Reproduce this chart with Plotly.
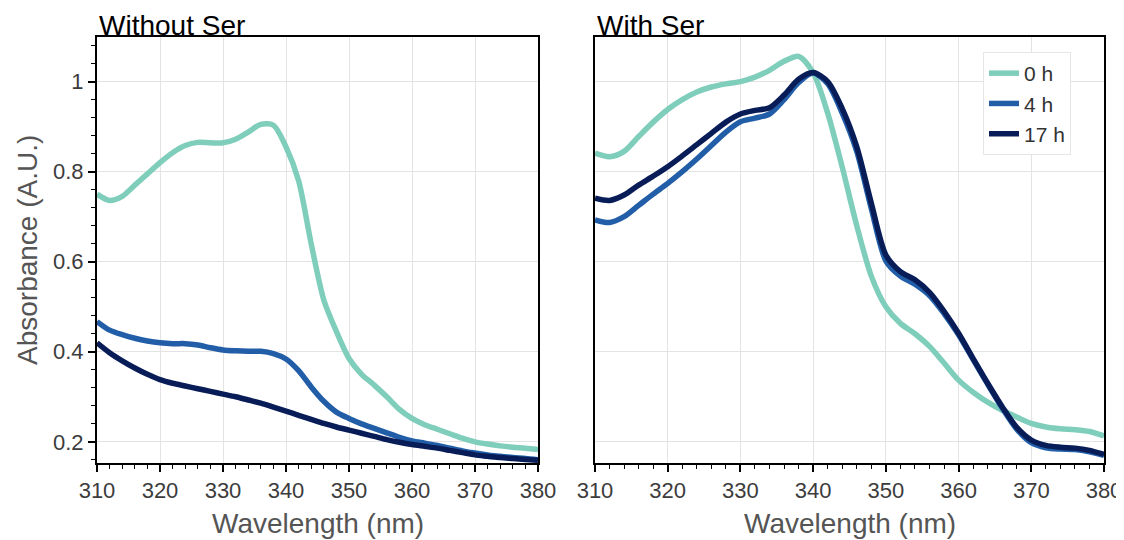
import plotly.graph_objects as go

wavelength = [310, 312, 314, 316, 318, 320, 322, 324, 326, 328, 330, 332, 334, 336, 338,
              340, 342, 344, 346, 348, 350, 352, 354, 356, 358, 360, 362, 364, 366, 368,
              370, 372, 374, 376, 378, 380]

series_names = ["0 h", "4 h", "17 h"]
series_colors = ["#7fcdbb", "#225ea8", "#081d58"]

# Without Ser
without_0h = [0.750, 0.736, 0.745, 0.770, 0.795, 0.820, 0.842, 0.858, 0.865, 0.864, 0.864, 0.872,
              0.888, 0.905, 0.903, 0.855, 0.780, 0.640, 0.515, 0.445, 0.385, 0.350, 0.326, 0.300,
              0.272, 0.252, 0.238, 0.228, 0.218, 0.208, 0.200, 0.195, 0.191, 0.188, 0.186, 0.183]
without_4h = [0.467, 0.448, 0.438, 0.430, 0.424, 0.420, 0.418, 0.418, 0.415, 0.409, 0.404, 0.402,
              0.401, 0.401, 0.396, 0.384, 0.358, 0.322, 0.290, 0.266, 0.252, 0.240, 0.230, 0.220,
              0.210, 0.202, 0.197, 0.192, 0.186, 0.180, 0.175, 0.171, 0.168, 0.165, 0.163, 0.160]
without_17h = [0.420, 0.398, 0.380, 0.364, 0.350, 0.338, 0.330, 0.324, 0.318, 0.312, 0.306, 0.300,
               0.293, 0.286, 0.277, 0.268, 0.259, 0.250, 0.241, 0.233, 0.226, 0.219, 0.212, 0.205,
               0.199, 0.194, 0.190, 0.186, 0.181, 0.176, 0.171, 0.168, 0.165, 0.163, 0.161, 0.159]

# With Ser
with_0h = [0.841, 0.833, 0.845, 0.878, 0.910, 0.938, 0.960, 0.977, 0.988, 0.995, 1.000, 1.010,
           1.025, 1.045, 1.056, 1.020, 0.930, 0.810, 0.680, 0.568, 0.500, 0.463, 0.440, 0.412,
           0.375, 0.337, 0.310, 0.288, 0.270, 0.255, 0.241, 0.233, 0.229, 0.227, 0.223, 0.213]
with_4h = [0.693, 0.687, 0.700, 0.725, 0.750, 0.774, 0.800, 0.828, 0.858, 0.888, 0.911, 0.919,
           0.928, 0.960, 0.998, 1.019, 0.995, 0.930, 0.845, 0.718, 0.602, 0.568, 0.550, 0.525,
           0.485, 0.438, 0.383, 0.328, 0.275, 0.228, 0.198, 0.187, 0.184, 0.183, 0.178, 0.170]
with_17h = [0.741, 0.736, 0.748, 0.770, 0.790, 0.811, 0.835, 0.860, 0.885, 0.910, 0.928, 0.936,
            0.942, 0.970, 1.005, 1.020, 1.000, 0.940, 0.855, 0.730, 0.615, 0.578, 0.560, 0.532,
            0.490, 0.441, 0.385, 0.330, 0.278, 0.232, 0.204, 0.192, 0.188, 0.186, 0.181, 0.172]

x_ticks = [310, 320, 330, 340, 350, 360, 370, 380]
y_ticks = [0.2, 0.4, 0.6, 0.8, 1.0]
y_ticktext = ["0.2", "0.4", "0.6", "0.8", "1"]

panel_titles = ["Without Ser", "With Ser"]
x_title = "Wavelength (nm)"
y_title = "Absorbance (A.U.)"

FONT = "Liberation Sans, Arial, Helvetica, sans-serif"
W, H = 1124, 540
OFF = 8  # page body margin


def px(x):
    return (x - OFF) / W


def py(y):
    return 1 - (y - OFF) / H


fig = go.Figure()
for name, color, ys in zip(series_names, series_colors, [without_0h, without_4h, without_17h]):
    fig.add_trace(go.Scatter(x=wavelength, y=ys, mode="lines", name=name,
                             line=dict(color=color, width=5.5, shape="spline", smoothing=0.8),
                             xaxis="x", yaxis="y", showlegend=False))
for name, color, ys in zip(series_names, series_colors, [with_0h, with_4h, with_17h]):
    fig.add_trace(go.Scatter(x=wavelength, y=ys, mode="lines", name=name,
                             line=dict(color=color, width=5.5, shape="spline", smoothing=0.8),
                             xaxis="x2", yaxis="y2", showlegend=True))

left_dom = [px(97), px(538)]
right_dom = [px(595), px(1104)]
y_dom = [py(463), py(37)]
y_range = [0.153, 1.099]

grid_color = "#e3e3e3"
tickfont = dict(family=FONT, size=22, color="#3c3c3c")

xcommon = dict(range=[310, 380], tickvals=x_ticks, showline=True, linecolor="black", linewidth=2,
               mirror=True, ticks="outside", ticklen=7, tickwidth=1.5, tickcolor="black",
               showgrid=True, gridcolor=grid_color, gridwidth=1.2, zeroline=False,
               tickfont=tickfont, automargin=False,
               minor=dict(dtick=2, tick0=310, ticks="outside", ticklen=4, tickwidth=1.2,
                          tickcolor="black", showgrid=False))

fig.update_layout(
    width=W, height=H, autosize=False,
    margin=dict(l=0, r=0, t=0, b=0, autoexpand=False),
    paper_bgcolor="white", plot_bgcolor="white",
    font=dict(family=FONT),
    xaxis=dict(domain=left_dom, anchor="y", **xcommon),
    xaxis2=dict(domain=right_dom, anchor="y2", **xcommon),
    yaxis=dict(domain=y_dom, anchor="x", range=y_range, tickvals=y_ticks, ticktext=y_ticktext,
               showline=True, linecolor="black", linewidth=2, mirror=True,
               ticks="outside", ticklen=7, tickwidth=1.5, tickcolor="black",
               showgrid=True, gridcolor=grid_color, gridwidth=1.2, zeroline=False,
               tickfont=tickfont, automargin=False,
               minor=dict(dtick=0.04, tick0=0, ticks="outside", ticklen=4, tickwidth=1.2,
                          tickcolor="black", showgrid=False)),
    yaxis2=dict(domain=y_dom, anchor="x2", range=y_range, tickvals=y_ticks,
                showticklabels=False, ticks="", automargin=False,
                showline=True, linecolor="black", linewidth=2, mirror=True,
                showgrid=True, gridcolor=grid_color, gridwidth=1.2, zeroline=False),
    legend=dict(x=px(983), y=py(52), xanchor="left", yanchor="top",
                bgcolor="white", bordercolor="#e6e6e6", borderwidth=1,
                font=dict(family=FONT, size=21, color="#333333"),
                itemwidth=30, tracegroupgap=0),
    showlegend=True,
)

annotations = [
    dict(text=panel_titles[0], x=left_dom[0], y=y_dom[1], xref="paper", yref="paper",
         xanchor="left", yanchor="bottom", showarrow=False, yshift=-6,
         font=dict(family=FONT, size=28, color="black")),
    dict(text=panel_titles[1], x=right_dom[0], y=y_dom[1], xref="paper", yref="paper",
         xanchor="left", yanchor="bottom", showarrow=False, yshift=-6,
         font=dict(family=FONT, size=28, color="black")),
    dict(text=x_title, x=(left_dom[0] + left_dom[1]) / 2, y=py(523), xref="paper", yref="paper",
         xanchor="center", yanchor="middle", showarrow=False,
         font=dict(family=FONT, size=28, color="#555555")),
    dict(text=x_title, x=(right_dom[0] + right_dom[1]) / 2, y=py(523), xref="paper", yref="paper",
         xanchor="center", yanchor="middle", showarrow=False,
         font=dict(family=FONT, size=28, color="#555555")),
    dict(text=y_title, x=px(27), y=py(250), xref="paper", yref="paper", textangle=-90,
         xanchor="center", yanchor="middle", showarrow=False,
         font=dict(family=FONT, size=28, color="#555555")),
]
fig.update_layout(annotations=annotations)

fig.write_html("out.html")
